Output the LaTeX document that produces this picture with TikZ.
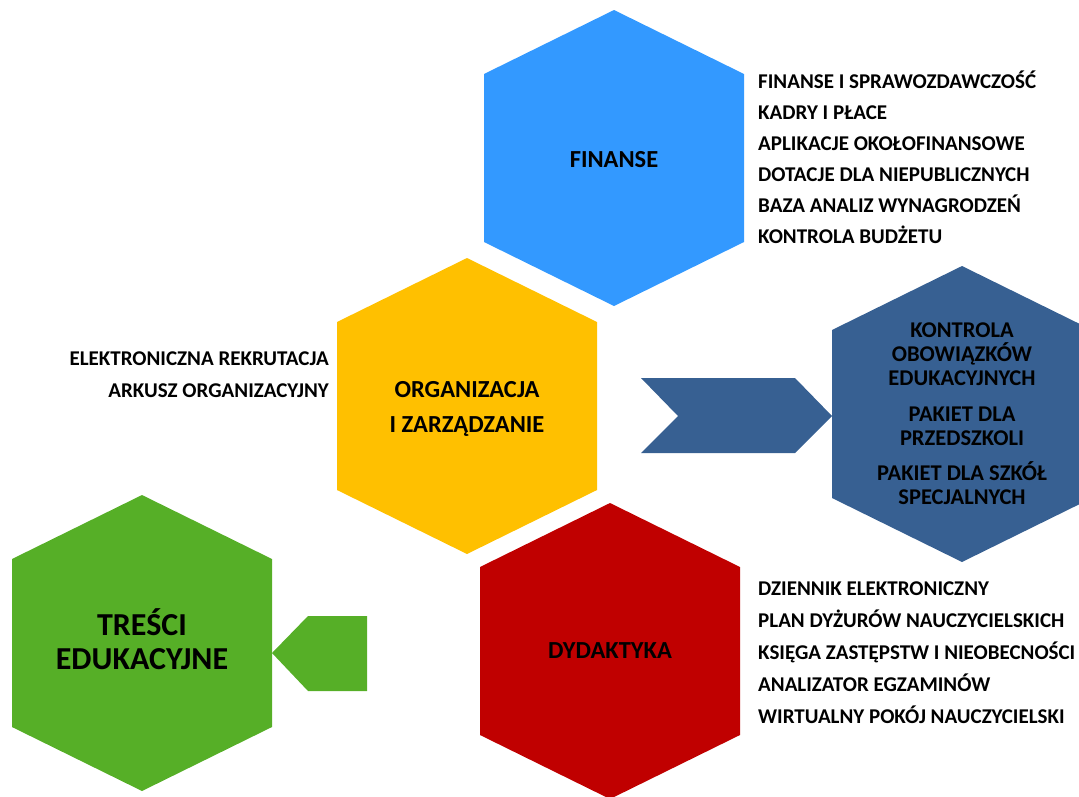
\documentclass[tikz,border=0pt]{standalone}
\usepackage{fontspec}
\setmainfont{Carlito}
\definecolor{cblue}{HTML}{3399FF}
\definecolor{cyellow}{HTML}{FFC000}
\definecolor{cnavy}{HTML}{376092}
\definecolor{cred}{HTML}{C00000}
\definecolor{cgreen}{HTML}{56AF27}
\tikzset{
  hexshape/.pic={\fill[pic actions] (0,-148) -- (130,-84) -- (130,84) -- (0,148) -- (-130,84) -- (-130,-84) -- cycle;},
  hexlabel/.style={inner sep=0pt, anchor=base, font=\bfseries\fontsize{24.5}{30}\selectfont},
  biglabel/.style={inner sep=0pt, anchor=base, font=\bfseries\fontsize{32}{36}\selectfont},
  navylabel/.style={inner sep=0pt, anchor=base, font=\bfseries\fontsize{22.5}{24}\selectfont},
  listitem/.style={inner sep=0pt, anchor=base west, font=\bfseries\fontsize{21}{24}\selectfont},
  listitemr/.style={inner sep=0pt, anchor=base east, font=\bfseries\fontsize{21}{24}\selectfont},
}
\begin{document}
\begin{tikzpicture}[x=1pt,y=-1pt]
\useasboundingbox (0,0) rectangle (1079,796);
\clip (0,0) rectangle (1079,796);
% hexagons
\pic[fill=cblue] at (614,158) {hexshape};
\pic[fill=cyellow] at (467,406) {hexshape};
\pic[fill=cnavy] at (962,414) {hexshape};
\pic[fill=cred] at (610,651) {hexshape};
\pic[fill=cgreen] at (142,643) {hexshape};
% chevrons
\coordinate (nv1) at (641,378);
\coordinate (nv2) at (795,378);
\coordinate (nv3) at (832,416);
\coordinate (nv4) at (795,453);
\coordinate (nv5) at (641,453);
\coordinate (nv6) at (678,416);
\fill[cnavy] (nv1) -- (nv2) -- (nv3) -- (nv4) -- (nv5) -- (nv6) -- cycle;
\coordinate (gr1) at (272,653);
\coordinate (gr2) at (308,616);
\coordinate (gr3) at (367,616);
\coordinate (gr4) at (367,691);
\coordinate (gr5) at (308,691);
\fill[cgreen] (gr1) -- (gr2) -- (gr3) -- (gr4) -- (gr5) -- cycle;
% hexagon labels
\node[hexlabel] (fin) at (614,167) {FINANSE};
\node[hexlabel] (org1) at (467,397) {ORGANIZACJA};
\node[hexlabel] (org2) at (467,432) {I ZARZĄDZANIE};
\node[hexlabel] (dyd) at (610,658) {DYDAKTYKA};
\node[biglabel] (tr1) at (142,635) {TREŚCI};
\node[biglabel] (tr2) at (142,669) {EDUKACYJNE};
\node[navylabel] (nv-a) at (962,337) {KONTROLA};
\node[navylabel] (nv-b) at (962,361) {OBOWIĄZKÓW};
\node[navylabel] (nv-c) at (962,385) {EDUKACYJNYCH};
\node[navylabel] (nv-d) at (962,421) {PAKIET DLA};
\node[navylabel] (nv-e) at (962,445) {PRZEDSZKOLI};
\node[navylabel] (nv-f) at (962,480) {PAKIET DLA SZKÓŁ};
\node[navylabel] (nv-g) at (962,504) {SPECJALNYCH};
% finanse list
\node[listitem] (f1) at (758,88) {FINANSE I SPRAWOZDAWCZOŚĆ};
\node[listitem] (f2) at (758,119) {KADRY I PŁACE};
\node[listitem] (f3) at (758,150) {APLIKACJE OKOŁOFINANSOWE};
\node[listitem] (f4) at (758,181) {DOTACJE DLA NIEPUBLICZNYCH};
\node[listitem] (f5) at (758,212) {BAZA ANALIZ WYNAGRODZEŃ};
\node[listitem] (f6) at (758,243) {KONTROLA BUDŻETU};
% organizacja list
\node[listitemr] (o1) at (329,365) {ELEKTRONICZNA REKRUTACJA};
\node[listitemr] (o2) at (329,397) {ARKUSZ ORGANIZACYJNY};
% dydaktyka list
\node[listitem] (d1) at (758,595) {DZIENNIK ELEKTRONICZNY};
\node[listitem] (d2) at (758,627) {PLAN DYŻURÓW NAUCZYCIELSKICH};
\node[listitem] (d3) at (758,659) {KSIĘGA ZASTĘPSTW I NIEOBECNOŚCI};
\node[listitem] (d4) at (758,691) {ANALIZATOR EGZAMINÓW};
\node[listitem] (d5) at (758,723) {WIRTUALNY POKÓJ NAUCZYCIELSKI};
\end{tikzpicture}
\end{document}
